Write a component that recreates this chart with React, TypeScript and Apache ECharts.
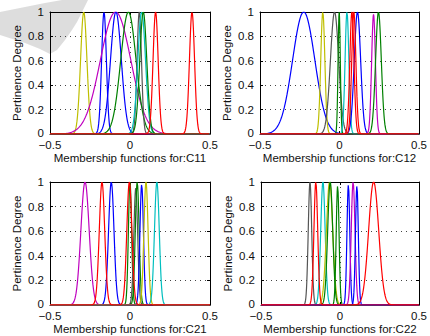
import React, { useEffect, useRef } from "react";
import * as echarts from "echarts";

// Membership function parameters (Gaussian: center, sigma, peak)
const titles = ["Membership functions for:C11", "Membership functions for:C12", "Membership functions for:C21", "Membership functions for:C22"];
const yTicksLabel = "Pertinence Degree";

const c11Centers = [-0.289, -0.1625, -0.09, -0.088, -0.01, 0.058, 0.073, 0.083, 0.16, 0.3875];
const c11Sigmas = [0.02, 0.015, 0.095, 0.034, 0.048, 0.014, 0.024, 0.022, 0.016, 0.016];
const c11Peaks = [1, 1, 1, 1, 1, 1, 1, 1, 1, 1];
const c11Colors = ["#bfbf00", "#0000ff", "#bf00bf", "#0000ff", "#008000", "#555555", "#00bfbf", "#008000", "#ff0000", "#ff0000"];

const c12Centers = [-0.225, -0.105, -0.031, -0.002, 0.047, 0.113, 0.214, 0.245, 0.078, 0.09];
const c12Sigmas = [0.07, 0.013, 0.026, 0.007, 0.012, 0.02, 0.012, 0.018, 0.013, 0.013];
const c12Peaks = [1, 1, 1, 1, 1, 1, 0.98, 1, 1, 1];
const c12Colors = ["#0000ff", "#bfbf00", "#555555", "#008000", "#00bfbf", "#0000ff", "#bf00bf", "#008000", "#ff0000", "#ff0000"];

const c21Centers = [-0.281, -0.117, 0.0, 0.036, 0.045, 0.073, 0.1, 0.168, -0.004, -0.175];
const c21Sigmas = [0.026, 0.017, 0.01, 0.012, 0.012, 0.011, 0.013, 0.015, 0.016, 0.017];
const c21Peaks = [1, 1, 1, 0.95, 1, 0.98, 1, 1, 1, 1];
const c21Colors = ["#bf00bf", "#0000ff", "#008000", "#555555", "#008000", "#0000ff", "#bfbf00", "#00bfbf", "#ff0000", "#ff0000"];

const c22Centers = [-0.19, -0.108, -0.066, -0.062, -0.015, 0.053, 0.083, 0.107, -0.153, 0.213];
const c22Sigmas = [0.011, 0.014, 0.02, 0.016, 0.009, 0.009, 0.012, 0.009, 0.012, 0.032];
const c22Peaks = [1, 1, 1, 1, 0.97, 0.98, 1, 0.97, 1, 1];
const c22Colors = ["#555555", "#00bfbf", "#bfbf00", "#008000", "#008000", "#0000ff", "#bf00bf", "#0000ff", "#ff0000", "#ff0000"];

const xMin = -0.5;
const xMax = 0.5;
const xStep = 0.002;

const panels = [
  { centers: c11Centers, sigmas: c11Sigmas, peaks: c11Peaks, colors: c11Colors },
  { centers: c12Centers, sigmas: c12Sigmas, peaks: c12Peaks, colors: c12Colors },
  { centers: c21Centers, sigmas: c21Sigmas, peaks: c21Peaks, colors: c21Colors },
  { centers: c22Centers, sigmas: c22Sigmas, peaks: c22Peaks, colors: c22Colors },
];

const grids = [
  { left: 50, top: 12, width: 160, height: 122 },
  { left: 260, top: 12, width: 162, height: 122 },
  { left: 50, top: 182, width: 160, height: 123 },
  { left: 261, top: 182, width: 160, height: 123 },
];

function gaussian(c: number, s: number, h: number): number[][] {
  const pts: number[][] = [];
  const n = Math.round((xMax - xMin) / xStep);
  for (let i = 0; i <= n; i++) {
    const x = xMin + i * xStep;
    pts.push([x, h * Math.exp(-((x - c) * (x - c)) / (2 * s * s))]);
  }
  return pts;
}

const FONT = "Liberation Sans, Arial, Helvetica, sans-serif";

function fmt(v: number): string {
  const r = Math.round(v * 10) / 10;
  const s = String(r);
  return s.replace("-", "\u2212");
}

function fmtY(v: number): string {
  if (Math.abs(v) < 1e-9) return "{z|0}";
  return fmt(v);
}

export default function App() {
  const ref = useRef<HTMLDivElement>(null);
  useEffect(() => {
    if (!ref.current) return;
    const chart = echarts.init(ref.current, undefined, { renderer: "svg" });
    const xAxis: any[] = [];
    const yAxis: any[] = [];
    const series: any[] = [];
    grids.forEach((g, i) => {
      xAxis.push({
        type: "value",
        gridIndex: i,
        min: xMin,
        max: xMax,
        interval: 0.5,
        position: "bottom",
        name: titles[i],
        nameLocation: "middle",
        nameGap: 17,
        nameTextStyle: { fontFamily: FONT, fontSize: 11.5, color: "#111" },
        axisLine: { show: true, onZero: false, lineStyle: { color: "#000", width: 1 } },
        axisTick: { show: true, inside: true, length: 3, lineStyle: { color: "#000" } },
        axisLabel: { margin: 6, lineHeight: 10, fontFamily: FONT, fontSize: 11.5, color: "#111", formatter: fmt },
        splitLine: { show: true, lineStyle: { color: "#444", type: [1, 4], width: 1 } },
      });
      xAxis.push({
        type: "value",
        gridIndex: i,
        min: xMin,
        max: xMax,
        interval: 0.5,
        position: "top",
        axisLine: { show: true, onZero: false, lineStyle: { color: "#000", width: 1 } },
        axisTick: { show: true, inside: true, length: 3, lineStyle: { color: "#000" } },
        axisLabel: { show: false },
        splitLine: { show: false },
      });
      yAxis.push({
        type: "value",
        gridIndex: i,
        min: 0,
        max: 1,
        interval: 0.2,
        position: "left",
        name: yTicksLabel,
        nameLocation: "middle",
        nameGap: 27,
        nameTextStyle: { fontFamily: FONT, fontSize: 11.5, color: "#111" },
        axisLine: { show: true, onZero: false, lineStyle: { color: "#000", width: 1 } },
        axisTick: { show: true, inside: true, length: 3, lineStyle: { color: "#000" } },
        axisLabel: {
          margin: 6,
          lineHeight: 10,
          fontFamily: FONT,
          fontSize: 11.5,
          color: "#111",
          formatter: fmtY,
          rich: { z: { fontFamily: FONT, fontSize: 11.5, color: "#111", lineHeight: 10, padding: [0, 0, 3, 0] } },
        },
        splitLine: { show: true, lineStyle: { color: "#444", type: [1, 4], width: 1 } },
      });
      yAxis.push({
        type: "value",
        gridIndex: i,
        min: 0,
        max: 1,
        interval: 0.2,
        position: "right",
        axisLine: { show: true, onZero: false, lineStyle: { color: "#000", width: 1 } },
        axisTick: { show: true, inside: true, length: 3, lineStyle: { color: "#000" } },
        axisLabel: { show: false },
        splitLine: { show: false },
      });
      const p = panels[i];
      p.centers.forEach((c, k) => {
        series.push({
          type: "line",
          xAxisIndex: i * 2,
          yAxisIndex: i * 2,
          data: gaussian(c, p.sigmas[k], p.peaks[k]),
          showSymbol: false,
          symbol: "none",
          silent: true,
          clip: true,
          lineStyle: { color: p.colors[k], width: 1.2 },
          z: 2 + k * 0.01,
        });
      });
    });
    chart.setOption({
      animation: false,
      backgroundColor: "#fff",
      grid: grids.map((g) => ({ ...g, containLabel: false })),
      xAxis,
      yAxis,
      series,
      graphic: [
        {
          type: "polygon",
          z: -1,
          silent: true,
          shape: {
            points: [
              [0, 12], [20, 8], [45, 3], [62, 0], [88, 0], [83, 10], [77, 22], [72, 30], [65, 40], [57, 50], [50, 54], [40, 49], [25, 43], [0, 35],
            ],
          },
          style: { fill: "rgba(165,165,165,0.38)" },
        },
      ],
    });
    return () => chart.dispose();
  }, []);
  return (
    <div
      ref={ref}
      style={{ position: "fixed", left: 0, top: 0, width: 430, height: 336 }}
    />
  );
}
